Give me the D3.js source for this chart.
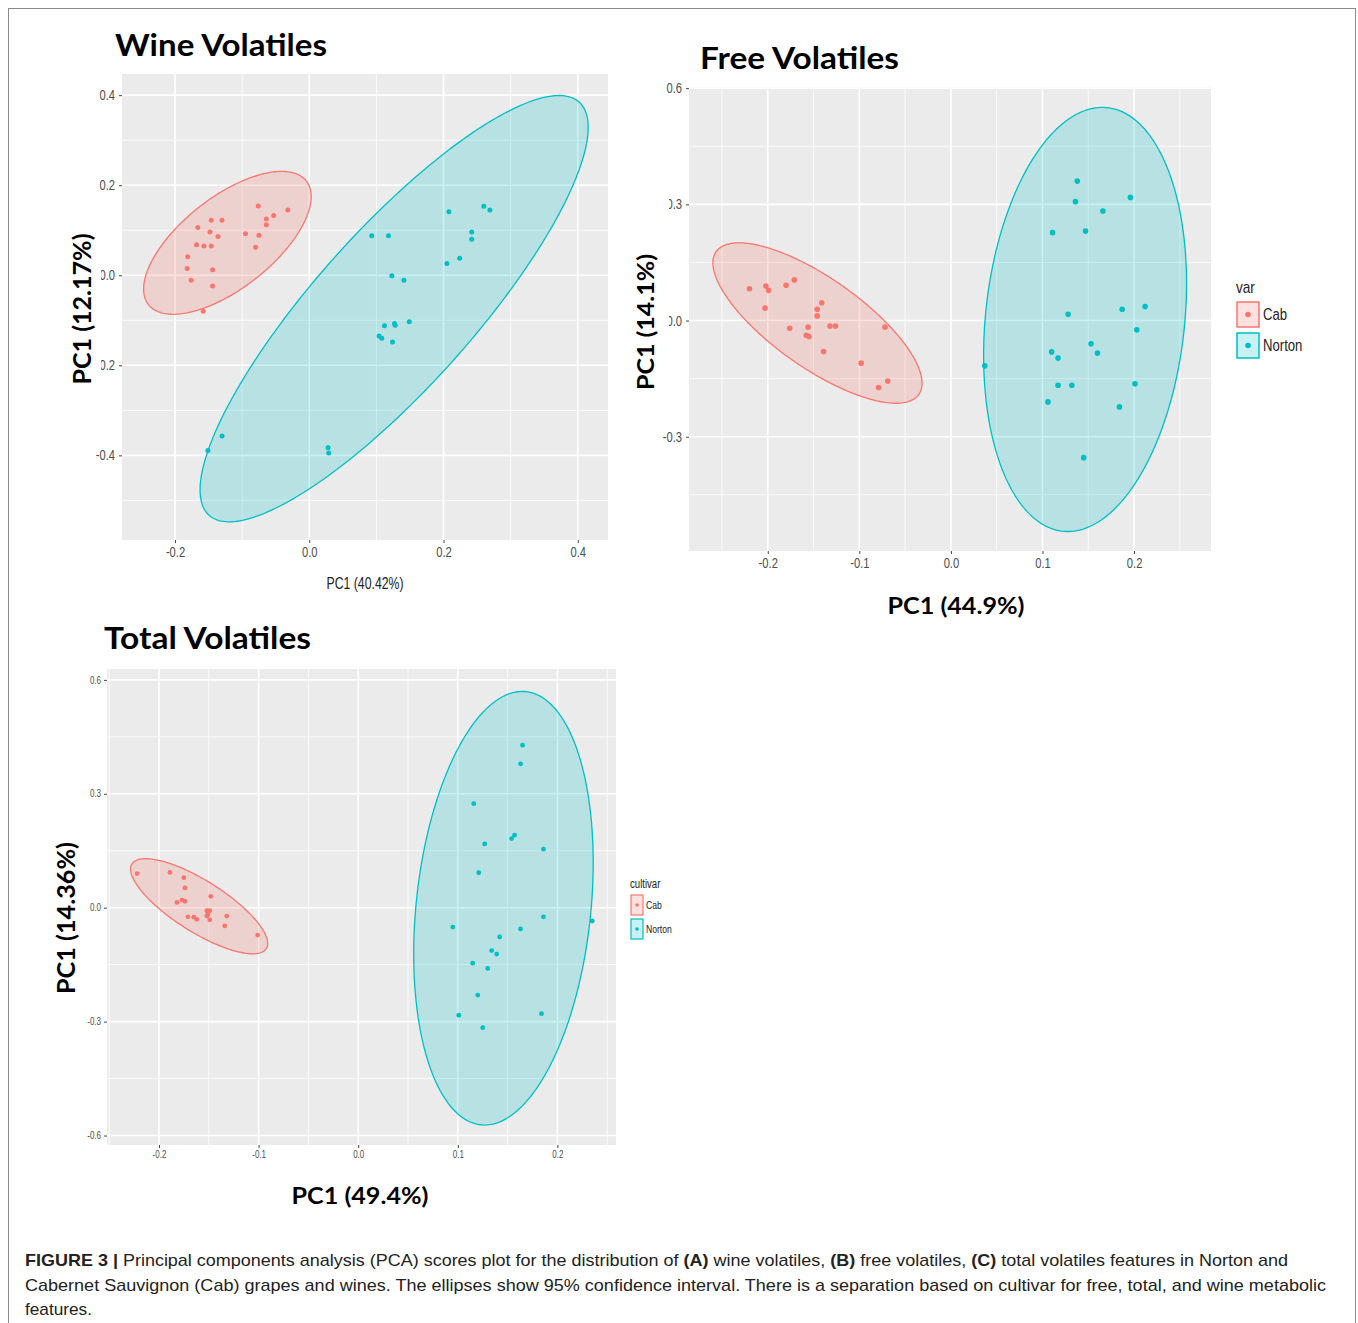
<!DOCTYPE html>
<html>
<head>
<meta charset="utf-8">
<script src="https://cdn.jsdelivr.net/npm/d3@7/dist/d3.min.js"></script>
<style>
  html, body { margin: 0; padding: 0; background: #fff; }
  svg { display: block; }
</style>
</head>
<body>
<svg id="chart" width="1358" height="1323"></svg>
<script>
// ---------------- DATA ----------------
const groups = ["Cab", "Norton"];
const groupColors = ["#F8766D", "#00BFC4"];

// Panel A: Wine Volatiles  [PC1, PC2]
const wineCab = [
  [-0.181, 0.041], [-0.182, 0.015], [-0.176, -0.011], [-0.168, 0.068], [-0.166, 0.106],
  [-0.157, 0.065], [-0.148, 0.096], [-0.146, 0.122], [-0.146, 0.065], [-0.144, 0.012],
  [-0.144, -0.024], [-0.158, -0.080], [-0.136, 0.086], [-0.130, 0.122], [-0.095, 0.092],
  [-0.080, 0.062], [-0.075, 0.089], [-0.076, 0.154], [-0.064, 0.125], [-0.064, 0.112],
  [-0.053, 0.133], [-0.032, 0.145]
];
const wineNorton = [
  [-0.151, -0.389], [-0.130, -0.357], [0.028, -0.383], [0.029, -0.395], [0.093, 0.088],
  [0.118, 0.088], [0.123, -0.001], [0.141, -0.011], [0.112, -0.112], [0.127, -0.107],
  [0.128, -0.111], [0.149, -0.103], [0.104, -0.135], [0.108, -0.140], [0.124, -0.148],
  [0.208, 0.141], [0.205, 0.026], [0.224, 0.038], [0.242, 0.096], [0.242, 0.080],
  [0.260, 0.153], [0.269, 0.145]
];
// ellipses: [centerX, centerY, halfExtentX, halfExtentY, correlation]
const wineCabEllipse = [-0.122, 0.072, 0.1248, 0.1587, 0.646];
const wineNortonEllipse = [0.1264, -0.0742, 0.2891, 0.4734, 0.85];

// Panel B: Free Volatiles
const freeCab = [
  [-0.220, 0.082], [-0.202, 0.089], [-0.199, 0.078], [-0.203, 0.032], [-0.180, 0.091],
  [-0.171, 0.105], [-0.141, 0.046], [-0.146, 0.029], [-0.146, 0.012], [-0.176, -0.020],
  [-0.156, -0.017], [-0.158, -0.038], [-0.155, -0.041], [-0.132, -0.014], [-0.126, -0.014],
  [-0.139, -0.080], [-0.072, -0.017], [-0.098, -0.110], [-0.079, -0.173], [-0.069, -0.156]
];
const freeNorton = [
  [0.037, -0.117], [0.138, 0.360], [0.136, 0.307], [0.166, 0.283], [0.196, 0.318],
  [0.111, 0.227], [0.147, 0.231], [0.128, 0.016], [0.187, 0.029], [0.212, 0.036],
  [0.203, -0.024], [0.153, -0.060], [0.110, -0.081], [0.117, -0.097], [0.160, -0.084],
  [0.117, -0.167], [0.132, -0.167], [0.201, -0.163], [0.106, -0.210], [0.184, -0.223],
  [0.145, -0.354]
];
const freeCabEllipse = [-0.1457, -0.0064, 0.1142, 0.2071, -0.75];
const freeNortonEllipse = [0.1465, 0.0028, 0.1108, 0.5475, 0.17];

// Panel C: Total Volatiles
const totalCab = [
  [-0.222, 0.090], [-0.189, 0.093], [-0.175, 0.079], [-0.174, 0.052], [-0.182, 0.014],
  [-0.177, 0.020], [-0.174, 0.017], [-0.171, -0.024], [-0.165, -0.025], [-0.162, -0.031],
  [-0.148, 0.030], [-0.152, -0.008], [-0.151, -0.018], [-0.149, -0.008], [-0.149, -0.032],
  [-0.152, -0.022], [-0.132, -0.022], [-0.134, -0.048], [-0.101, -0.072]
];
const totalNorton = [
  [0.165, 0.428], [0.163, 0.379], [0.116, 0.274], [0.127, 0.168], [0.154, 0.182],
  [0.157, 0.191], [0.186, 0.154], [0.121, 0.092], [0.095, -0.051], [0.186, -0.024],
  [0.235, -0.035], [0.163, -0.056], [0.142, -0.077], [0.134, -0.113], [0.139, -0.122],
  [0.115, -0.146], [0.130, -0.160], [0.120, -0.230], [0.101, -0.283], [0.184, -0.279],
  [0.125, -0.316]
];
const totalCabEllipse = [-0.1597, 0.0038, 0.0688, 0.1253, -0.78];
const totalNortonEllipse = [0.1458, -0.0014, 0.0901, 0.5709, 0.21];

// axis ticks and ranges
const wineXTicks = [-0.2, 0.0, 0.2, 0.4];
const wineYTicks = [-0.4, -0.2, 0.0, 0.2, 0.4];
const wineXMinor = [-0.1, 0.1, 0.3];
const wineYMinor = [-0.5, -0.3, -0.1, 0.1, 0.3];
const wineXRange = [-0.279, 0.445];
const wineYRange = [-0.588, 0.447];

const freeXTicks = [-0.2, -0.1, 0.0, 0.1, 0.2];
const freeYTicks = [-0.3, 0.0, 0.3, 0.6];
const freeXMinor = [-0.25, -0.15, -0.05, 0.05, 0.15, 0.25];
const freeYMinor = [-0.45, -0.15, 0.15, 0.45];
const freeXRange = [-0.286, 0.284];
const freeYRange = [-0.595, 0.603];

const totalXTicks = [-0.2, -0.1, 0.0, 0.1, 0.2];
const totalYTicks = [-0.6, -0.3, 0.0, 0.3, 0.6];
const totalXMinor = [-0.25, -0.15, -0.05, 0.05, 0.15, 0.25];
const totalYMinor = [-0.45, -0.15, 0.15, 0.45];
const totalXRange = [-0.2522, 0.2588];
const totalYRange = [-0.6249, 0.6286];

// texts
const panelTitles = ["Wine Volatiles", "Free Volatiles", "Total Volatiles"];
const xTitles = ["PC1 (40.42%)", "PC1 (44.9%)", "PC1 (49.4%)"];
const yTitles = ["PC1 (12.17%)", "PC1 (14.1%)", "PC1 (14.36%)"];
const legendTitles = ["var", "cultivar"];

// ---------------- DRAWING ----------------
const svg = d3.select("#chart");
const narrow = "'Liberation Sans Narrow','Arial Narrow','Liberation Sans',Arial,sans-serif";
const boldFont = "Lato,'Open Sans','DejaVu Sans',sans-serif";

// condense text horizontally (the reference uses a narrow face)
function condense(sel, factor) {
  sel.each(function () {
    const w = this.getComputedTextLength();
    d3.select(this).attr("textLength", w * factor).attr("lengthAdjust", "spacingAndGlyphs");
  });
}

// figure frame
svg.append("rect").attr("x", 8.5).attr("y", 8.5).attr("width", 1347).attr("height", 1340)
  .attr("fill", "none").attr("stroke", "#8a8a8a").attr("stroke-width", 1);

function ellipsePoints(e) {
  const [cx, cy, hx, hy, r] = e;
  const pts = [];
  const s = Math.sqrt(1 - r * r);
  for (let i = 0; i < 240; i++) {
    const t = (i / 240) * Math.PI * 2;
    pts.push([cx + hx * Math.cos(t), cy + hy * (r * Math.cos(t) + s * Math.sin(t))]);
  }
  return pts;
}

function drawPanel(cfg) {
  const x = d3.scaleLinear().domain(cfg.xRange).range([cfg.left, cfg.right]);
  const y = d3.scaleLinear().domain(cfg.yRange).range([cfg.bottom, cfg.top]);
  const g = svg.append("g");
  const id = "clip" + cfg.key;
  svg.append("clipPath").attr("id", id).append("rect")
    .attr("x", cfg.left).attr("y", cfg.top)
    .attr("width", cfg.right - cfg.left).attr("height", cfg.bottom - cfg.top);

  g.append("rect").attr("x", cfg.left).attr("y", cfg.top)
    .attr("width", cfg.right - cfg.left).attr("height", cfg.bottom - cfg.top)
    .attr("fill", "#EBEBEB");

  // minor grid
  g.selectAll(".vminor").data(cfg.xMinor).join("line")
    .attr("x1", d => x(d)).attr("x2", d => x(d)).attr("y1", cfg.top).attr("y2", cfg.bottom)
    .attr("stroke", "#fff").attr("stroke-width", cfg.minorW);
  g.selectAll(".hminor").data(cfg.yMinor).join("line")
    .attr("y1", d => y(d)).attr("y2", d => y(d)).attr("x1", cfg.left).attr("x2", cfg.right)
    .attr("stroke", "#fff").attr("stroke-width", cfg.minorW);
  // major grid
  g.selectAll(".vmajor").data(cfg.xTicks).join("line")
    .attr("x1", d => x(d)).attr("x2", d => x(d)).attr("y1", cfg.top).attr("y2", cfg.bottom)
    .attr("stroke", "#fff").attr("stroke-width", cfg.majorW);
  g.selectAll(".hmajor").data(cfg.yTicks).join("line")
    .attr("y1", d => y(d)).attr("y2", d => y(d)).attr("x1", cfg.left).attr("x2", cfg.right)
    .attr("stroke", "#fff").attr("stroke-width", cfg.majorW);

  const plot = g.append("g").attr("clip-path", `url(#${id})`);
  const line = d3.line().x(d => x(d[0])).y(d => y(d[1])).curve(d3.curveLinearClosed);
  cfg.ellipses.forEach((e, i) => {
    plot.append("path").attr("d", line(ellipsePoints(e)))
      .attr("fill", groupColors[i]).attr("fill-opacity", 0.22)
      .attr("stroke", groupColors[i]).attr("stroke-width", 1.3);
  });
  cfg.points.forEach((pts, i) => {
    plot.selectAll(null).data(pts).join("circle")
      .attr("cx", d => x(d[0])).attr("cy", d => y(d[1])).attr("r", cfg.pointR)
      .attr("fill", groupColors[i]);
  });

  // axes
  const fmt = d3.format(".1f");
  const xAxis = d3.axisBottom(x).tickValues(cfg.xTicks).tickFormat(d => fmt(d).replace("−", "-"))
    .tickSize(cfg.tickLen).tickPadding(cfg.tickPad);
  const yAxis = d3.axisLeft(y).tickValues(cfg.yTicks).tickFormat(d => fmt(d).replace("−", "-"))
    .tickSize(cfg.tickLen).tickPadding(cfg.tickPad);
  const gx = svg.append("g").attr("transform", `translate(0,${cfg.bottom})`).call(xAxis);
  const gy = svg.append("g").attr("transform", `translate(${cfg.left},0)`).call(yAxis);
  [gx, gy].forEach(a => {
    a.select(".domain").remove();
    a.selectAll(".tick line").attr("stroke", "#444").attr("stroke-width", 1);
    a.selectAll(".tick text").attr("fill", "#4D4D4D")
      .style("font-family", narrow).style("font-size", cfg.tickFont + "px");
    condense(a.selectAll(".tick text"), 0.8);
  });

  // x title
  const xt = svg.append("text").attr("x", cfg.xTitle.x).attr("y", cfg.xTitle.y)
    .attr("text-anchor", "middle").text(cfg.xTitleText)
    .style("font-family", cfg.xTitle.bold ? boldFont : narrow)
    .style("font-weight", cfg.xTitle.bold ? 700 : 400)
    .style("font-size", cfg.xTitle.size + "px").attr("fill", cfg.xTitle.bold ? "#000" : "#222");
  if (cfg.xTitle.len) xt.attr("textLength", cfg.xTitle.len).attr("lengthAdjust", "spacingAndGlyphs");

  // y title with white backing box
  if (cfg.yBox) {
    svg.append("rect").attr("x", cfg.yBox[0]).attr("y", cfg.yBox[1])
      .attr("width", cfg.yBox[2]).attr("height", cfg.yBox[3]).attr("fill", "#fff");
  }
  svg.append("text")
    .attr("transform", `translate(${cfg.yTitle.x},${cfg.yTitle.y}) rotate(-90)`)
    .attr("text-anchor", "middle").text(cfg.yTitleText)
    .style("font-family", boldFont).style("font-weight", 700)
    .style("font-size", cfg.yTitle.size + "px")
    .attr("textLength", cfg.yTitle.len).attr("lengthAdjust", "spacingAndGlyphs");

  // panel title
  svg.append("text").attr("x", cfg.title.x).attr("y", cfg.title.y).text(cfg.titleText)
    .style("font-family", boldFont).style("font-weight", 700)
    .style("font-size", cfg.title.size + "px")
    .attr("textLength", cfg.title.len).attr("lengthAdjust", "spacingAndGlyphs");

  // legend
  if (cfg.legend) {
    const L = cfg.legend;
    const lt = svg.append("text").attr("x", L.x).attr("y", L.titleY).text(L.title)
      .style("font-family", narrow).style("font-size", L.titleSize + "px").attr("fill", "#222");
    condense(lt, 0.8);
    groups.forEach((gname, i) => {
      const by = L.boxY + i * L.step;
      svg.append("rect").attr("x", L.x + 1).attr("y", by).attr("width", L.boxW).attr("height", L.boxH)
        .attr("fill", "#fff");
      svg.append("rect").attr("x", L.x + 1).attr("y", by).attr("width", L.boxW).attr("height", L.boxH)
        .attr("fill", groupColors[i]).attr("fill-opacity", 0.22)
        .attr("stroke", groupColors[i]).attr("stroke-width", L.strokeW);
      svg.append("circle").attr("cx", L.x + 1 + L.boxW / 2).attr("cy", by + L.boxH / 2)
        .attr("r", L.dotR).attr("fill", groupColors[i]);
      const tx = svg.append("text").attr("x", L.x + L.boxW + L.labelGap).attr("y", by + L.boxH / 2)
        .attr("dy", "0.35em").text(gname)
        .style("font-family", narrow).style("font-size", L.labelSize + "px").attr("fill", "#222");
      condense(tx, 0.82);
    });
  }
}

drawPanel({
  key: "A", left: 122, right: 608, top: 74, bottom: 540,
  xRange: wineXRange, yRange: wineYRange, xTicks: wineXTicks, yTicks: wineYTicks,
  xMinor: wineXMinor, yMinor: wineYMinor, majorW: 1.6, minorW: 0.8,
  ellipses: [wineCabEllipse, wineNortonEllipse], points: [wineCab, wineNorton], pointR: 2.5,
  tickLen: 3, tickPad: 4, tickFont: 14,
  xTitleText: xTitles[0], xTitle: { x: 365, y: 589, size: 17, bold: false, len: 77 },
  yTitleText: yTitles[0], yTitle: { x: 91, y: 309, size: 25, len: 151 },
  yBox: [62, 226, 39, 170],
  titleText: panelTitles[0], title: { x: 115, y: 56, size: 30, len: 212 }
});

drawPanel({
  key: "B", left: 689, right: 1211, top: 87, bottom: 551,
  xRange: freeXRange, yRange: freeYRange, xTicks: freeXTicks, yTicks: freeYTicks,
  xMinor: freeXMinor, yMinor: freeYMinor, majorW: 1.6, minorW: 0.8,
  ellipses: [freeCabEllipse, freeNortonEllipse], points: [freeCab, freeNorton], pointR: 2.8,
  tickLen: 3, tickPad: 4, tickFont: 14,
  xTitleText: xTitles[1], xTitle: { x: 956, y: 614, size: 23, bold: true, len: 137 },
  yTitleText: yTitles[1], yTitle: { x: 654, y: 322, size: 23, len: 136 },
  yBox: [632, 196, 37, 215],
  titleText: panelTitles[1], title: { x: 700, y: 69, size: 30, len: 199 },
  legend: { x: 1236, title: legendTitles[0], titleY: 293, titleSize: 17, boxY: 302, step: 31,
    boxW: 22, boxH: 25, strokeW: 1.5, dotR: 2.8, labelGap: 5, labelSize: 16 }
});

drawPanel({
  key: "C", left: 107, right: 616, top: 669, bottom: 1145,
  xRange: totalXRange, yRange: totalYRange, xTicks: totalXTicks, yTicks: totalYTicks,
  xMinor: totalXMinor, yMinor: totalYMinor, majorW: 1.6, minorW: 0.8,
  ellipses: [totalCabEllipse, totalNortonEllipse], points: [totalCab, totalNorton], pointR: 2.4,
  tickLen: 3, tickPad: 3, tickFont: 10,
  xTitleText: xTitles[2], xTitle: { x: 360, y: 1204, size: 23, bold: true, len: 137 },
  yTitleText: yTitles[2], yTitle: { x: 75, y: 918, size: 24, len: 152 },
  yBox: null,
  titleText: panelTitles[2], title: { x: 104, y: 649, size: 30, len: 207 },
  legend: { x: 630, title: legendTitles[1], titleY: 888, titleSize: 12, boxY: 895, step: 24,
    boxW: 12, boxH: 20, strokeW: 1.2, dotR: 1.8, labelGap: 4, labelSize: 10.5 }
});

// caption
const caption = [
  { y: 1266, len: 1263, parts: [["FIGURE 3 | ", 700], ["Principal components analysis (PCA) scores plot for the distribution of ", 400], ["(A)", 700], [" wine volatiles, ", 400], ["(B)", 700], [" free volatiles, ", 400], ["(C)", 700], [" total volatiles features in Norton and", 400]] },
  { y: 1291, len: 1301, parts: [["Cabernet Sauvignon (Cab) grapes and wines. The ellipses show 95% confidence interval. There is a separation based on cultivar for free, total, and wine metabolic", 400]] },
  { y: 1315, len: 67, parts: [["features.", 400]] }
];
caption.forEach(c => {
  const t = svg.append("text").attr("x", 25).attr("y", c.y)
    .style("font-family", "'Liberation Sans',Arial,sans-serif").style("font-size", "17px")
    .attr("fill", "#222").attr("textLength", c.len).attr("lengthAdjust", "spacingAndGlyphs");
  c.parts.forEach(p => t.append("tspan").style("font-weight", p[1]).text(p[0]));
});
</script>
</body>
</html>
